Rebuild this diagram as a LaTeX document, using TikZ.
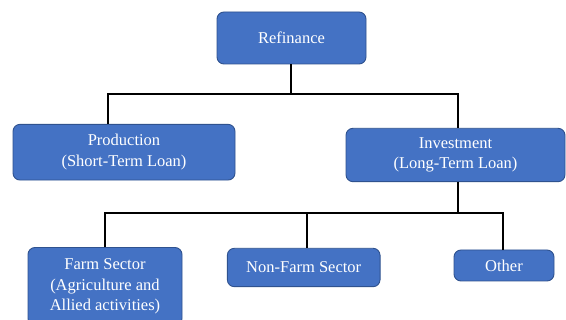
\documentclass[tikz,border=0pt]{standalone}
\usepackage{fontspec}
\setmainfont{Liberation Serif}
\definecolor{boxfill}{HTML}{4472C4}
\definecolor{boxedge}{HTML}{2F528F}
\begin{document}
\begin{tikzpicture}[x=1pt,y=-1pt,
  box/.style={draw=boxedge, line width=0.9pt, fill=boxfill, rounded corners=7pt,
    text=white, align=center, inner sep=0pt,
    font=\fontsize{16.5}{20.5}\selectfont},
  conn/.style={draw=black, line width=1.8pt}]
\useasboundingbox (0,0) rectangle (566,320);
\clip (0,0) rectangle (566,320);
\fill[white] (0,0) rectangle (566,320);

\node[box, minimum width=149pt, minimum height=52pt] (ref) at (291.5,38) {Refinance};
\node[box, minimum width=222pt, minimum height=55.7pt] (prod) at (124,152.2) {Production\\(Short-Term Loan)};
\node[box, minimum width=219pt, minimum height=53.4pt] (inv) at (455.5,155) {Investment\\(Long-Term Loan)};
\node[box, minimum width=154pt, minimum height=78pt] (farm) at (105,286.5) {Farm Sector\\(Agriculture and\\Allied activities)};
\node[box, minimum width=152.7pt, minimum height=38.4pt] (nonfarm) at (303.7,267.5) {Non-Farm Sector};
\node[box, minimum width=100pt, minimum height=31pt] (other) at (504,265.5) {Other};

\coordinate (busL) at (108,94);
\coordinate (busR) at (458,94);
\coordinate (busM) at (291,94);
\coordinate (bus2L) at (105,213);
\coordinate (bus2M) at (307,213);
\coordinate (bus2R) at (503,213);
\coordinate (bus2I) at (458,213);

\draw[conn] (ref.south -| busM) -- (busM);
\draw[conn] (prod.north -| busL) -- (busL) -- (busR) -- (inv.north -| busR);
\draw[conn] (inv.south -| bus2I) -- (bus2I);
\draw[conn] (farm.north -| bus2L) -- (bus2L) -- (bus2R) -- (other.north -| bus2R);
\draw[conn] (bus2M) -- (nonfarm.north -| bus2M);
\end{tikzpicture}
\end{document}
